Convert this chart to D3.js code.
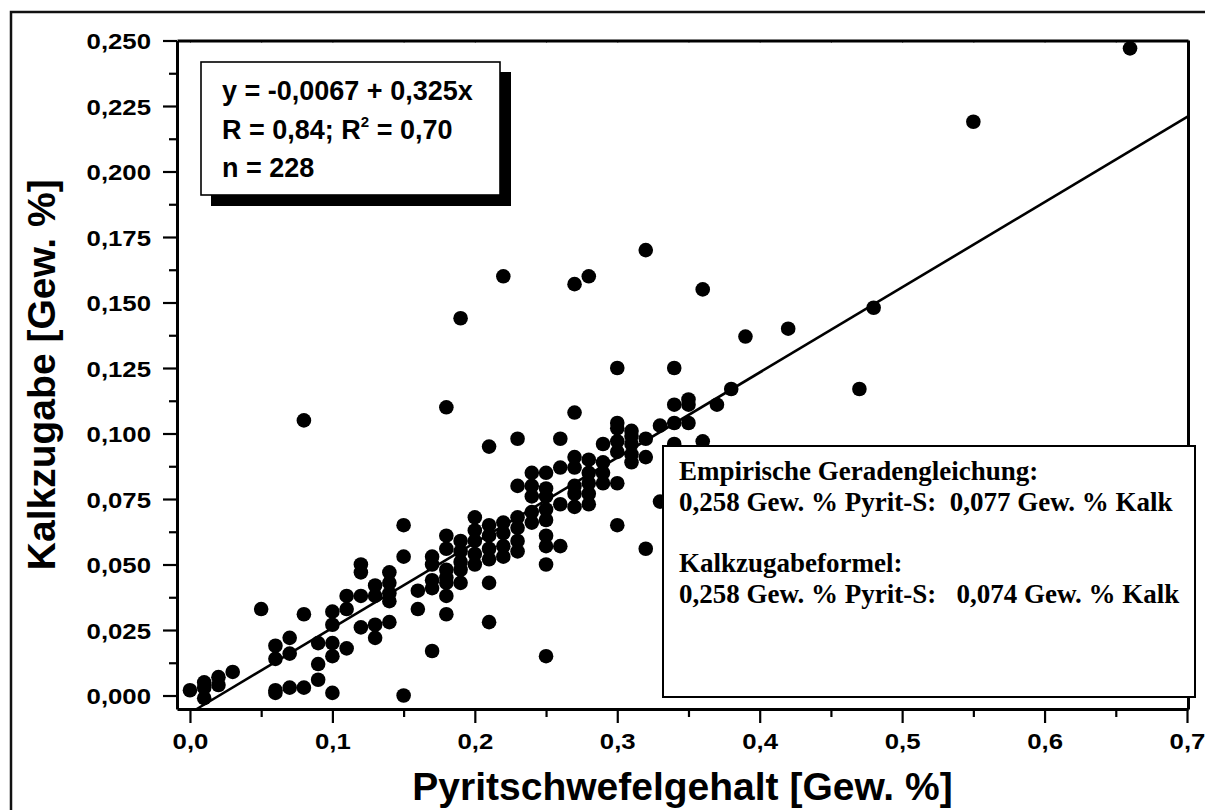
<!DOCTYPE html>
<html lang="de">
<head>
  <meta charset="UTF-8">
  <title>Kalkzugabe vs. Pyritschwefelgehalt</title>
  <script src="https://d3js.org/d3.v7.min.js"></script>
  <style>
    html, body { margin: 0; background: #fff; overflow: hidden; }
    svg { display: block; overflow: hidden; }
    .tick-label { font-family: "Liberation Sans", Arial, sans-serif; font-weight: bold; font-size: 23px; fill: #000; }
    .axis-title { font-family: "Liberation Sans", Arial, sans-serif; font-weight: bold; font-size: 39px; fill: #000; }
    .fit-text { font-family: "Liberation Sans", Arial, sans-serif; font-weight: bold; font-size: 27px; fill: #000; }
    .note-text { font-family: "Liberation Serif", "Times New Roman", serif; font-weight: bold; font-size: 27px; fill: #000; white-space: pre; }
  </style>
</head>
<body>
<svg id="chart" width="1205" height="810"></svg>
<script>
  // x columns (Pyrit-S, Gew. %) and the Kalkzugabe values
  const pyritColumns = [0.00, 0.01, 0.02, 0.03, 0.05, 0.06, 0.07, 0.08, 0.09, 0.10,
    0.11, 0.12, 0.13, 0.14, 0.15, 0.16, 0.17, 0.18, 0.19, 0.20,
    0.21, 0.22, 0.23, 0.24, 0.25, 0.26, 0.27, 0.28, 0.29, 0.30,
    0.31, 0.32, 0.33, 0.34, 0.35, 0.36, 0.37, 0.38, 0.39, 0.42,
    0.47, 0.48, 0.55, 0.66];
  const kalkByColumn = [
    [0.002], [0.005, 0.003, -0.001], [0.007, 0.004], [0.009], [0.033],
    [0.019, 0.014, 0.002, 0.001], [0.022, 0.016, 0.003], [0.105, 0.031, 0.003],
    [0.020, 0.012, 0.006], [0.032, 0.027, 0.020, 0.015, 0.001],
    [0.038, 0.033, 0.018], [0.050, 0.047, 0.038, 0.026], [0.042, 0.038, 0.027, 0.022],
    [0.047, 0.043, 0.039, 0.036, 0.028], [0.065, 0.053, 0.000], [0.040, 0.033],
    [0.053, 0.050, 0.044, 0.041, 0.017],
    [0.110, 0.061, 0.056, 0.048, 0.045, 0.043, 0.038, 0.031],
    [0.144, 0.059, 0.055, 0.051, 0.048, 0.043],
    [0.068, 0.063, 0.059, 0.054, 0.050],
    [0.095, 0.065, 0.061, 0.056, 0.052, 0.043, 0.028],
    [0.160, 0.066, 0.062, 0.057, 0.053],
    [0.098, 0.080, 0.068, 0.064, 0.059, 0.055],
    [0.085, 0.080, 0.076, 0.070, 0.066],
    [0.085, 0.079, 0.076, 0.071, 0.067, 0.061, 0.057, 0.050, 0.015],
    [0.098, 0.087, 0.073, 0.057],
    [0.157, 0.108, 0.091, 0.087, 0.080, 0.077, 0.072],
    [0.160, 0.090, 0.085, 0.081, 0.077, 0.073],
    [0.096, 0.089, 0.085, 0.081],
    [0.125, 0.104, 0.102, 0.097, 0.093, 0.081, 0.065],
    [0.101, 0.099, 0.096, 0.092, 0.089],
    [0.170, 0.098, 0.091, 0.056],
    [0.103, 0.074], [0.125, 0.111, 0.104, 0.096], [0.113, 0.111, 0.104],
    [0.155, 0.097], [0.111], [0.117], [0.137], [0.140],
    [0.117], [0.148], [0.219], [0.247]
  ];

  // regression from the original fit
  const fitIntercept = -0.0067;
  const fitSlope = 0.325;

  const xTickValues = [0, 0.1, 0.2, 0.3, 0.4, 0.5, 0.6, 0.7];
  const yTickValues = [0, 0.025, 0.05, 0.075, 0.1, 0.125, 0.15, 0.175, 0.2, 0.225, 0.25];

  const fitLines = ["y = -0,0067 + 0,325x", "R = 0,84; R", "n = 228"];
  const noteLines = [
    "Empirische Geradengleichung:",
    "0,258 Gew. % Pyrit-S:  0,077 Gew. % Kalk",
    "",
    "Kalkzugabeformel:",
    "0,258 Gew. % Pyrit-S:   0,074 Gew. % Kalk"
  ];

  const points = [];
  pyritColumns.forEach((px, i) => kalkByColumn[i].forEach(k => points.push({ x: px, y: k })));

  // layout
  const plot = { left: 177, right: 1188, top: 40.5, bottom: 709 };
  const svg = d3.select("#chart");

  const x = d3.scaleLinear().domain([-0.0091, 0.7007]).range([plot.left, plot.right]);
  const y = d3.scaleLinear().domain([-0.00515, 0.25]).range([plot.bottom, plot.top]);

  const fmtX = v => d3.format(".1f")(v).replace(".", ",");
  const fmtY = v => d3.format(".3f")(v).replace(".", ",");

  // outer frame (runs off the page on the right and bottom)
  svg.append("rect")
    .attr("x", 11).attr("y", 12).attr("width", 1400).attr("height", 1000)
    .attr("fill", "none").attr("stroke", "#111").attr("stroke-width", 2.5);

  // points
  svg.append("g").selectAll("circle")
    .data(points)
    .join("circle")
    .attr("cx", d => x(d.x))
    .attr("cy", d => y(d.y))
    .attr("r", 7.3)
    .attr("fill", "#000");

  // regression line clipped to plot
  const x0 = (y.domain()[0] - fitIntercept) / fitSlope;
  const x1 = 0.7007;
  svg.append("line")
    .attr("x1", x(x0)).attr("y1", y(fitIntercept + fitSlope * x0))
    .attr("x2", x(x1)).attr("y2", y(fitIntercept + fitSlope * x1))
    .attr("stroke", "#000").attr("stroke-width", 2.6);

  // axes: bottom and left with outward ticks, top and right with tiny marks
  const xMinor = d3.range(0.05, 0.7, 0.1);
  const yMinor = d3.range(0.0125, 0.25, 0.025);

  const xAxis = svg.append("g").attr("transform", `translate(0,${plot.bottom})`)
    .call(d3.axisBottom(x).tickValues(xTickValues).tickSize(14).tickSizeOuter(0).tickFormat(fmtX));
  xAxis.select(".domain").attr("stroke-width", 3);
  xAxis.selectAll(".tick line").attr("stroke-width", 2.2);
  xAxis.selectAll(".tick text").attr("class", "tick-label").attr("y", 0).attr("dy", 0)
    .attr("transform", "translate(0,40) scale(1.12,1)");
  svg.append("g").attr("transform", `translate(0,${plot.bottom})`)
    .call(d3.axisBottom(x).tickValues(xMinor).tickSize(8).tickSizeOuter(0).tickFormat(""))
    .call(g => g.select(".domain").remove())
    .selectAll(".tick line").attr("stroke-width", 2.2);

  const yAxis = svg.append("g").attr("transform", `translate(${plot.left},0)`)
    .call(d3.axisLeft(y).tickValues(yTickValues).tickSize(14).tickSizeOuter(0).tickFormat(fmtY));
  yAxis.select(".domain").attr("stroke-width", 3);
  yAxis.selectAll(".tick line").attr("stroke-width", 2.2);
  yAxis.selectAll(".tick text").attr("class", "tick-label").attr("x", 0).attr("dy", 0)
    .attr("text-anchor", "end")
    .attr("transform", "translate(-26,8) scale(1.12,1)");
  svg.append("g").attr("transform", `translate(${plot.left},0)`)
    .call(d3.axisLeft(y).tickValues(yMinor).tickSize(8).tickSizeOuter(0).tickFormat(""))
    .call(g => g.select(".domain").remove())
    .selectAll(".tick line").attr("stroke-width", 2.2);

  const topAxis = svg.append("g").attr("transform", `translate(0,${plot.top})`)
    .call(d3.axisBottom(x).tickValues(xTickValues.concat(xMinor)).tickSize(2).tickSizeOuter(0).tickFormat(""));
  topAxis.select(".domain").attr("stroke-width", 3);
  const rightAxis = svg.append("g").attr("transform", `translate(${plot.right},0)`)
    .call(d3.axisRight(y).tickValues(yTickValues.concat(yMinor)).tickSize(2).tickSizeOuter(0).tickFormat(""));
  rightAxis.select(".domain").attr("stroke-width", 3);

  // axis titles
  svg.append("text").attr("class", "axis-title")
    .attr("x", (plot.left + plot.right) / 2).attr("y", 800)
    .attr("text-anchor", "middle")
    .text("Pyritschwefelgehalt [Gew. %]");
  svg.append("text").attr("class", "axis-title")
    .attr("transform", `translate(55,${(plot.top + plot.bottom) / 2}) rotate(-90)`)
    .attr("text-anchor", "middle")
    .text("Kalkzugabe [Gew. %]");

  // fit box with drop shadow
  const fitBox = svg.append("g");
  fitBox.append("rect").attr("x", 211).attr("y", 72).attr("width", 300).attr("height", 134).attr("fill", "#000");
  fitBox.append("rect").attr("x", 201).attr("y", 62).attr("width", 299).attr("height", 133)
    .attr("fill", "#fff").attr("stroke", "#000").attr("stroke-width", 1.6);
  fitLines.forEach((t, i) => {
    const txt = fitBox.append("text").attr("class", "fit-text")
      .attr("x", 222).attr("y", 100 + i * 38.5).text(t);
    if (i === 1) {
      txt.append("tspan").attr("dy", -12).attr("font-size", 15).text("2");
      txt.append("tspan").attr("dy", 12).text(" = 0,70");
    }
  });

  // note box (covers points below it)
  const noteBox = svg.append("g");
  noteBox.append("rect").attr("x", 663).attr("y", 446).attr("width", 532).attr("height", 251)
    .attr("fill", "#fff").attr("stroke", "#000").attr("stroke-width", 2);
  noteLines.forEach((t, i) => {
    noteBox.append("text").attr("class", "note-text")
      .attr("x", 679).attr("y", 480 + i * 30.8).text(t);
  });
</script>
</body>
</html>
